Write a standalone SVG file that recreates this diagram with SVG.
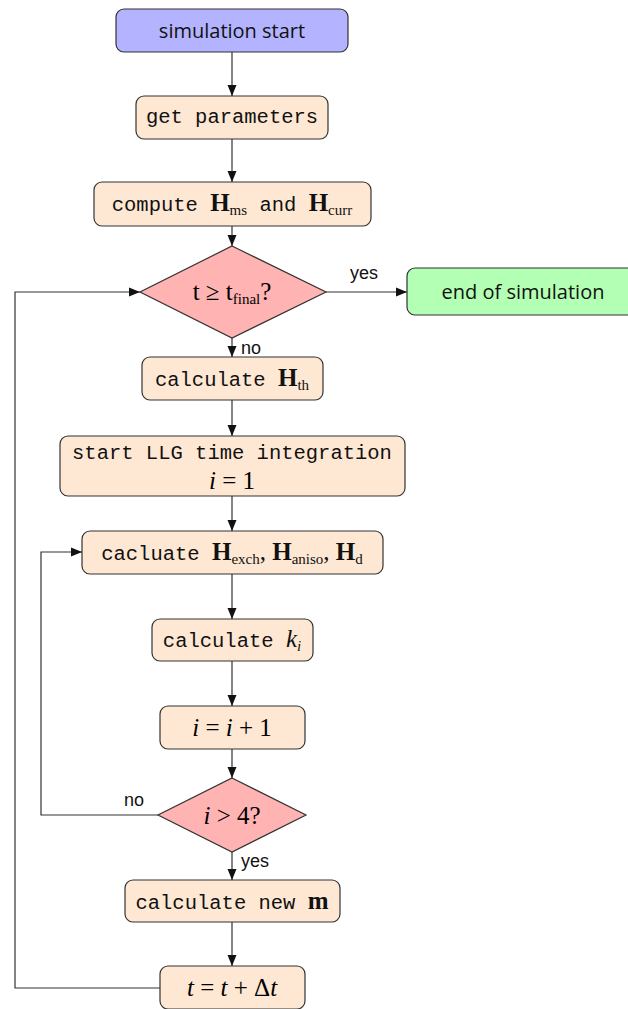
<svg xmlns="http://www.w3.org/2000/svg" width="628" height="1009" viewBox="0 0 628 1009">
<style>
.box{fill:#ffe8d3;stroke:#333;stroke-width:1.2}
.dia{fill:#ffb3b3;stroke:#333;stroke-width:1.2}
.con{fill:none;stroke:#333;stroke-width:1.2}
.mono{font-family:"Liberation Mono",monospace;font-size:20.5px;fill:#111}
.sans{font-family:"Open Sans","DejaVu Sans",sans-serif;font-size:20px;fill:#111}
.lbl{font-family:"Liberation Sans",Arial,sans-serif;font-size:18px;fill:#111}
.m{font-family:"Liberation Serif",serif;font-size:25px}
.mb{font-family:"Liberation Serif",serif;font-size:25px;font-weight:bold}
.mi{font-family:"Liberation Serif",serif;font-size:25px;font-style:italic}
.sub{font-family:"Liberation Serif",serif;font-size:15px}
</style>
<defs>
<marker id="arr" markerUnits="userSpaceOnUse" markerWidth="12" markerHeight="10" refX="11" refY="5" orient="auto">
<path d="M0,0.5 L11,5 L0,9.5 z" fill="#111"/>
</marker>
</defs>
<g id="connectors">
<path class="con" d="M232,52 V96" marker-end="url(#arr)"/>
<path class="con" d="M232,139 V182" marker-end="url(#arr)"/>
<path class="con" d="M232,226 V246" marker-end="url(#arr)"/>
<path class="con" d="M326,292 H407" marker-end="url(#arr)"/>
<path class="con" d="M232,338 V357" marker-end="url(#arr)"/>
<path class="con" d="M232,400 V436" marker-end="url(#arr)"/>
<path class="con" d="M232,496 V531" marker-end="url(#arr)"/>
<path class="con" d="M232,574 V619" marker-end="url(#arr)"/>
<path class="con" d="M232,661 V706" marker-end="url(#arr)"/>
<path class="con" d="M232,749 V778" marker-end="url(#arr)"/>
<path class="con" d="M232,852 V880" marker-end="url(#arr)"/>
<path class="con" d="M232,922 V966" marker-end="url(#arr)"/>
<path class="con" d="M160,988 H15 V292 H140" marker-end="url(#arr)"/>
<path class="con" d="M158,815 H41 V552 H82" marker-end="url(#arr)"/>
<text class="lbl" x="350" y="279">yes</text>
<text class="lbl" x="241" y="354">no</text>
<text class="lbl" x="124" y="806">no</text>
<text class="lbl" x="241" y="867">yes</text>
</g>
<g id="start">
<rect x="116" y="9" width="232" height="43" rx="8" fill="#b3b3ff" stroke="#333" stroke-width="1.2"/>
<text class="sans" x="232" y="38" text-anchor="middle">simulation start</text>
</g>
<g id="params">
<rect class="box" x="136" y="96" width="192" height="43" rx="8"/>
<text class="mono" x="232" y="123" text-anchor="middle">get parameters</text>
</g>
<g id="compute">
<rect class="box" x="94" y="182" width="277" height="44" rx="8"/>
<text class="mono" x="232" y="211" text-anchor="middle">compute <tspan class="mb">H</tspan><tspan class="sub" dy="4">ms</tspan><tspan dy="-4"> and </tspan><tspan class="mb">H</tspan><tspan class="sub" dy="4">curr</tspan></text>
</g>
<g id="cond1">
<polygon class="dia" points="232,246 326,292 232,338 140,292"/>
<text class="m" x="232" y="300" text-anchor="middle">t ≥ t<tspan class="sub" dy="4">final</tspan><tspan dy="-4">?</tspan></text>
</g>
<g id="end">
<rect x="407" y="268" width="235" height="47" rx="8" fill="#b3ffb3" stroke="#333" stroke-width="1.2"/>
<text class="sans" x="523" y="299" text-anchor="middle">end of simulation</text>
</g>
<g id="hth">
<rect class="box" x="142" y="357" width="181" height="43" rx="8"/>
<text class="mono" x="232" y="386" text-anchor="middle">calculate <tspan class="mb">H</tspan><tspan class="sub" dy="4">th</tspan></text>
</g>
<g id="llg">
<rect class="box" x="60" y="436" width="345" height="60" rx="8"/>
<text class="mono" x="232" y="459" text-anchor="middle" font-size="21">start LLG time integration</text>
<text class="m" x="232" y="489" text-anchor="middle"><tspan class="mi">i</tspan> = 1</text>
</g>
<g id="fields">
<rect class="box" x="82" y="531" width="301" height="43" rx="8"/>
<text class="mono" x="232" y="560" text-anchor="middle">cacluate <tspan class="mb">H</tspan><tspan class="sub" dy="4">exch</tspan><tspan class="m" dy="-4">, </tspan><tspan class="mb">H</tspan><tspan class="sub" dy="4">aniso</tspan><tspan class="m" dy="-4">, </tspan><tspan class="mb">H</tspan><tspan class="sub" dy="4">d</tspan></text>
</g>
<g id="ki">
<rect class="box" x="152" y="619" width="161" height="42" rx="8"/>
<text class="mono" x="232" y="647" text-anchor="middle">calculate <tspan class="mi">k</tspan><tspan class="sub" font-style="italic" dy="4">i</tspan></text>
</g>
<g id="incr">
<rect class="box" x="160" y="706" width="145" height="43" rx="8"/>
<text class="m" x="232" y="736" text-anchor="middle"><tspan class="mi">i</tspan> = <tspan class="mi">i</tspan> + 1</text>
</g>
<g id="cond2">
<polygon class="dia" points="232,778 306,815 232,852 158,815"/>
<text class="m" x="232" y="824" text-anchor="middle"><tspan class="mi">i</tspan> &gt; 4?</text>
</g>
<g id="newm">
<rect class="box" x="125" y="880" width="215" height="42" rx="8"/>
<text class="mono" x="232" y="909" text-anchor="middle">calculate new <tspan class="mb">m</tspan></text>
</g>
<g id="tstep">
<rect class="box" x="160" y="966" width="145" height="43" rx="8"/>
<text class="m" x="232" y="996" text-anchor="middle"><tspan class="mi">t</tspan> = <tspan class="mi">t</tspan> + Δ<tspan class="mi">t</tspan></text>
</g>
</svg>
